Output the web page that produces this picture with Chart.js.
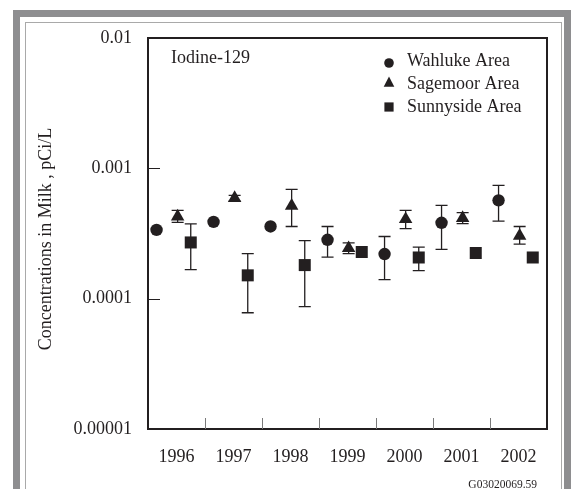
<!DOCTYPE html>
<html>
<head>
<meta charset="utf-8">
<script src="https://cdn.jsdelivr.net/npm/chart.js@4.4.1/dist/chart.umd.min.js"></script>
<style>
  body { margin: 0; background: #fff; }
  #wrap { position: relative; width: 571px; height: 489px; overflow: hidden; }
  #outer { position: absolute; left: 13px; top: 10px; width: 558px; height: 600px; box-sizing: border-box;
           border: 7px solid #8e8e90; border-bottom: none; }
  #inner { position: absolute; left: 25px; top: 22px; width: 537px; height: 600px; box-sizing: border-box;
           border: 1px solid #a9a9a9; border-bottom: none; }
  #myChart { position: absolute; left: 0; top: 0; }
</style>
</head>
<body>
<div id="wrap">
  <div id="outer"></div>
  <div id="inner"></div>
  <canvas id="myChart" width="571" height="489"></canvas>
</div>
<script>
// sampling years
const years = [1996, 1997, 1998, 1999, 2000, 2001, 2002];

// Wahluke Area (pCi/L), error bar ends where shown
const wahluke     = [3.37e-4, 3.88e-4, 3.58e-4, 2.83e-4, 2.20e-4, 3.82e-4, 5.68e-4];
const wahlukeLow  = [null, null, null, 2.08e-4, 1.40e-4, 2.39e-4, 3.94e-4];
const wahlukeHigh = [null, null, null, 3.58e-4, 3.00e-4, 5.19e-4, 7.40e-4];

// Sagemoor Area
const sagemoor     = [4.27e-4, 5.92e-4, 5.15e-4, 2.44e-4, 4.07e-4, 4.15e-4, 3.03e-4];
const sagemoorLow  = [3.85e-4, 5.60e-4, 3.58e-4, 2.22e-4, 3.45e-4, 3.76e-4, 2.62e-4];
const sagemoorHigh = [4.75e-4, 6.20e-4, 6.89e-4, 2.68e-4, 4.75e-4, 4.58e-4, 3.58e-4];

// Sunnyside Area
const sunnyside     = [2.70e-4, 1.51e-4, 1.81e-4, 2.28e-4, 2.07e-4, 2.24e-4, 2.07e-4];
const sunnysideLow  = [1.67e-4, 7.8e-5, 8.7e-5, null, 1.64e-4, null, null];
const sunnysideHigh = [3.75e-4, 2.22e-4, 2.79e-4, null, 2.49e-4, null, null];

const yTicks = [1e-5, 1e-4, 1e-3, 1e-2];
const yLabels = ["0.00001", "0.0001", "0.001", "0.01"];

const seriesNames = ["Wahluke Area", "Sagemoor Area", "Sunnyside Area"];

const INK = "#231f20";
const SERIF = "'Liberation Serif', 'Times New Roman', serif";

function points(vals, shift) {
  return years.map((yr, i) => ({ x: yr + shift, y: vals[i] }));
}

// error bars, box, inward ticks, labels and legend
const decorations = {
  id: "decorations",
  beforeDatasetsDraw(chart) {
    const ctx = chart.ctx;
    const xs = chart.scales.x, ys = chart.scales.y;
    ctx.save();
    ctx.strokeStyle = INK;
    ctx.lineWidth = 1.3;
    chart.data.datasets.forEach(ds => {
      ds.data.forEach((p, i) => {
        const lo = ds.errLow[i], hi = ds.errHigh[i];
        if (lo == null || hi == null) return;
        const x = xs.getPixelForValue(p.x);
        const y1 = ys.getPixelForValue(lo), y2 = ys.getPixelForValue(hi);
        ctx.beginPath();
        ctx.moveTo(x, y1); ctx.lineTo(x, y2);
        ctx.moveTo(x - 6, y1); ctx.lineTo(x + 6, y1);
        ctx.moveTo(x - 6, y2); ctx.lineTo(x + 6, y2);
        ctx.stroke();
      });
    });
    ctx.restore();
  },
  afterDraw(chart) {
    const ctx = chart.ctx;
    const a = chart.chartArea;
    const xs = chart.scales.x, ys = chart.scales.y;
    ctx.save();

    // plot box
    ctx.strokeStyle = INK;
    ctx.lineWidth = 2;
    ctx.strokeRect(a.left, a.top, a.right - a.left, a.bottom - a.top);

    // year separators along the bottom
    ctx.strokeStyle = "#7a7a7a";
    ctx.lineWidth = 1;
    years.slice(0, -1).forEach(yr => {
      const x = Math.round(xs.getPixelForValue(yr + 0.5)) + 0.5;
      ctx.beginPath(); ctx.moveTo(x, a.bottom); ctx.lineTo(x, a.bottom - 11); ctx.stroke();
    });

    // decade ticks on the left
    ctx.strokeStyle = INK;
    yTicks.slice(1, -1).forEach(v => {
      const y = Math.round(ys.getPixelForValue(v)) + 0.5;
      ctx.beginPath(); ctx.moveTo(a.left, y); ctx.lineTo(a.left + 12, y); ctx.stroke();
    });

    ctx.fillStyle = INK;
    ctx.font = "18px " + SERIF;
    ctx.textBaseline = "alphabetic";

    // panel label
    ctx.textAlign = "left";
    ctx.fillText("Iodine-129", 171, 63);

    // legend
    const lx = 389;
    const rows = [66, 89, 112];
    const marks = [63, 82, 107];
    seriesNames.forEach((name, i) => ctx.fillText(name, 407, rows[i]));
    ctx.beginPath(); ctx.arc(lx, marks[0], 4.8, 0, Math.PI * 2); ctx.fill();
    ctx.beginPath();
    ctx.moveTo(lx, marks[1] - 5.5); ctx.lineTo(lx + 5.3, marks[1] + 4.8); ctx.lineTo(lx - 5.3, marks[1] + 4.8);
    ctx.closePath(); ctx.fill();
    ctx.fillRect(lx - 4.6, marks[2] - 4.6, 9.2, 9.2);

    // y axis title
    ctx.save();
    ctx.translate(51, 239);
    ctx.rotate(-Math.PI / 2);
    ctx.textAlign = "center";
    ctx.fillText("Concentrations in Milk , pCi/L", 0, 0);
    ctx.restore();

    // figure code
    ctx.font = "11.5px " + SERIF;
    ctx.textAlign = "right";
    ctx.fillText("G03020069.59", 537, 488);

    ctx.restore();
  }
};

const ctx = document.getElementById("myChart");

new Chart(ctx, {
  type: "scatter",
  data: {
    datasets: [
      {
        label: seriesNames[0],
        data: points(wahluke, -0.35),
        errLow: wahlukeLow, errHigh: wahlukeHigh,
        pointStyle: "circle", pointRadius: 6.2,
        backgroundColor: INK, borderColor: INK, borderWidth: 0,
      },
      {
        label: seriesNames[1],
        data: points(sagemoor, 0.02),
        errLow: sagemoorLow, errHigh: sagemoorHigh,
        pointStyle: "triangle", pointRadius: 7.8,
        backgroundColor: INK, borderColor: INK, borderWidth: 0,
      },
      {
        label: seriesNames[2],
        data: points(sunnyside, 0.25),
        errLow: sunnysideLow, errHigh: sunnysideHigh,
        pointStyle: "rect", pointRadius: 8.5,
        backgroundColor: INK, borderColor: INK, borderWidth: 0,
      },
    ],
  },
  options: {
    responsive: false,
    animation: false,
    devicePixelRatio: 1,
    layout: { padding: { left: 0, top: 38, right: 24, bottom: 0 } },
    plugins: { legend: { display: false }, tooltip: { enabled: false } },
    scales: {
      x: {
        type: "linear",
        min: 1995.5,
        max: 2002.5,
        afterBuildTicks: s => { s.ticks = years.map(v => ({ value: v })); },
        afterFit: s => { s.height = 60; },
        grid: { display: false, drawTicks: false },
        border: { display: false },
        ticks: {
          autoSkip: false, maxRotation: 0, padding: 17,
          color: INK, font: { family: SERIF, size: 18 },
          callback: v => String(v),
        },
      },
      y: {
        type: "logarithmic",
        min: 1e-5,
        max: 1e-2,
        afterBuildTicks: s => { s.ticks = yTicks.map(v => ({ value: v })); },
        afterFit: s => { s.width = 148; },
        grid: { display: false, drawTicks: false },
        border: { display: false },
        ticks: {
          autoSkip: false, padding: 16,
          color: INK, font: { family: SERIF, size: 18 },
          callback: v => yLabels[yTicks.indexOf(v)] ?? "",
        },
      },
    },
  },
  plugins: [decorations],
});
</script>
</body>
</html>
